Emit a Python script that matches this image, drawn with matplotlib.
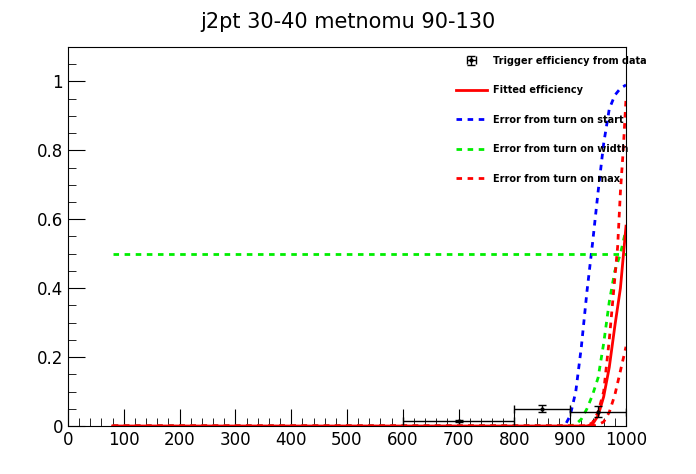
import numpy as np
import matplotlib.pyplot as plt
from matplotlib.ticker import MultipleLocator

# data points (bin centre, efficiency, half bin width, error)
pt_x = [700, 850, 950]
pt_y = [0.015, 0.05, 0.042]
pt_xerr = [100, 50, 50]
pt_yerr = [0.003, 0.01, 0.015]

# curves
fit_x = [80, 900, 930, 940, 950, 960, 970, 980, 990, 1000]
fit_y = [0, 0, 0, 0.005, 0.03, 0.085, 0.17, 0.29, 0.40, 0.58]
start_x = [80, 890, 900, 910, 920, 930, 940, 950, 960, 970, 980, 990, 1000]
start_y = [0, 0, 0.03, 0.10, 0.23, 0.39, 0.53, 0.68, 0.82, 0.92, 0.96, 0.98, 0.99]
width_x = [80, 900, 910, 920, 930, 940, 950, 960, 970, 980, 990, 1000]
width_y = [0, 0, 0.005, 0.02, 0.05, 0.09, 0.14, 0.24, 0.36, 0.45, 0.50, 0.57]
width_flat_x = [80, 1000]
width_flat_y = [0.5, 0.5]
max_hi_x = [80, 930, 940, 950, 960, 970, 980, 985, 990, 995, 1000]
max_hi_y = [0, 0, 0.01, 0.04, 0.10, 0.25, 0.43, 0.52, 0.68, 0.80, 0.95]
max_lo_x = [80, 940, 950, 960, 970, 980, 990, 1000]
max_lo_y = [0, 0, 0.004, 0.012, 0.04, 0.09, 0.16, 0.23]

fig = plt.figure(figsize=(6.96, 4.74), dpi=100)
ax = fig.add_axes([68/696, 1-426/474, (626-68)/696, (426-47)/474])

ax.plot(start_x, start_y, color='blue', ls=(0, (2, 2)), lw=2, label='Error from turn on start')
ax.plot(width_x, width_y, color='#00ee00', ls=(0, (2, 2)), lw=2, label='Error from turn on width')
ax.plot(width_flat_x, width_flat_y, color='#00ee00', ls=(0, (2, 2)), lw=2)
ax.plot(max_hi_x, max_hi_y, color='red', ls=(0, (2, 2)), lw=2, label='Error from turn on max')
ax.plot(max_lo_x, max_lo_y, color='red', ls=(0, (2, 2)), lw=2)
ax.plot(fit_x, fit_y, color='red', lw=2, label='Fitted efficiency')
ax.errorbar(pt_x, pt_y, xerr=pt_xerr, yerr=pt_yerr, fmt='o', ms=2, color='black',
            lw=1, capsize=3, label='Trigger efficiency from data')

ax.set_xlim(0, 1000)
ax.set_ylim(0, 1.1)
ax.xaxis.set_major_locator(MultipleLocator(100))
ax.xaxis.set_minor_locator(MultipleLocator(20))
ax.yaxis.set_major_locator(MultipleLocator(0.2))
ax.yaxis.set_minor_locator(MultipleLocator(0.05))
ax.yaxis.set_major_formatter(plt.FuncFormatter(lambda v, p: f'{v:g}'))
ax.tick_params(which='both', direction='in', top=False, right=False, labelsize=12)
ax.tick_params(which='major', length=12)
ax.tick_params(which='minor', length=6)

h, l = ax.get_legend_handles_labels()
order = [4, 3, 0, 1, 2]
leg = ax.legend([h[i] for i in order], [l[i] for i in order], loc='upper left',
                bbox_to_anchor=((452-68)/558, (426-52)/379),
                frameon=False, prop={'size': 7, 'weight': 'bold'},
                labelspacing=2.0, handlelength=3.2, handletextpad=0.6, borderaxespad=0)

fig.suptitle('j2pt 30-40 metnomu 90-130', y=0.975, fontsize=15)
fig.savefig('out.png', dpi=100)
